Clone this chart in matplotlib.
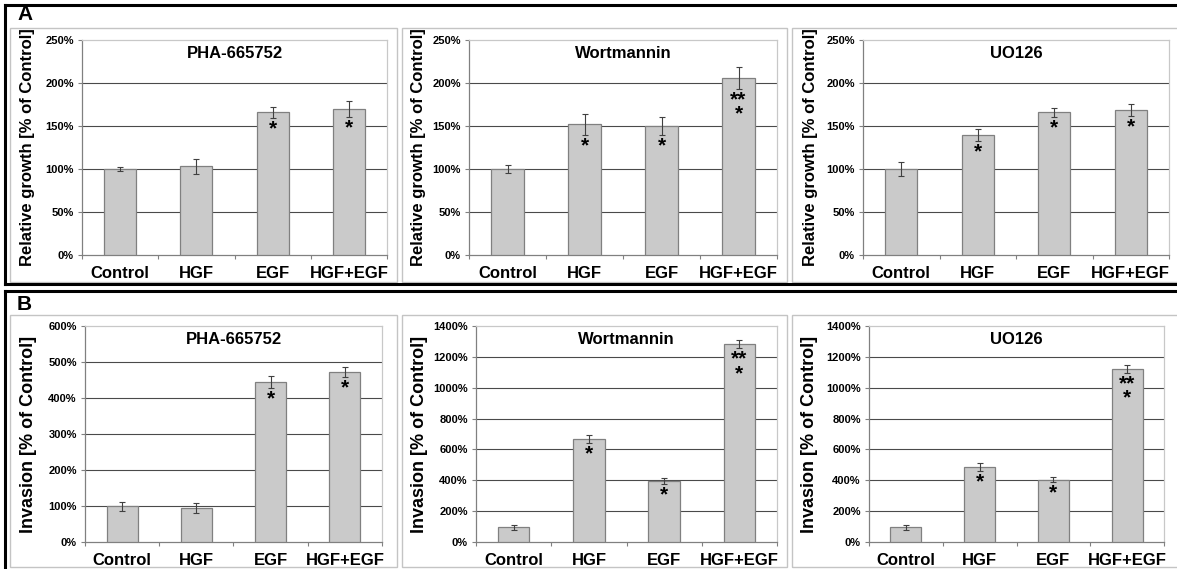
import matplotlib
matplotlib.use("Agg")
import matplotlib.pyplot as plt
from matplotlib.lines import Line2D
from matplotlib.patches import Rectangle
from matplotlib.ticker import FixedLocator, FuncFormatter

plt.rcParams['font.family'] = ['Liberation Sans', 'DejaVu Sans']

W, H = 1177, 569

categories = ["Control", "HGF", "EGF", "HGF+EGF"]

# Panel A: relative growth [% of Control]
growth_titles = ["PHA-665752", "Wortmannin", "UO126"]
growth_pha = [100, 103, 166, 170]
growth_pha_err = [2, 9, 6.5, 9.5]
growth_wort = [100, 152, 150, 206]
growth_wort_err = [4.5, 12, 10, 12.5]
growth_uo = [100, 140, 166, 169]
growth_uo_err = [8, 7, 5, 7]
growth_stars_pha = ["", "", "*", "*"]
growth_stars_wort = ["", "*", "*", "**\n*"]
growth_stars_uo = ["", "*", "*", "*"]

# Panel B: invasion [% of Control]
inv_pha = [99, 94, 445, 471]
inv_pha_err = [12, 14, 17, 14]
inv_wort = [95, 668, 396, 1285]
inv_wort_err = [15, 26, 19, 26]
inv_uo = [95, 484, 405, 1124]
inv_uo_err = [15, 26, 18, 26]
inv_stars_pha = ["", "", "*", "*"]
inv_stars_wort = ["", "*", "*", "**\n*"]
inv_stars_uo = ["", "*", "*", "**\n*"]

growth_ticks = [0, 50, 100, 150, 200, 250]
inv_ticks_pha = [0, 100, 200, 300, 400, 500, 600]
inv_ticks_big = [0, 200, 400, 600, 800, 1000, 1200, 1400]

fig = plt.figure(figsize=(W / 100, H / 100), dpi=100)


def rect(x0, y0, x1, y1):
    return [x0 / W, 1 - y1 / H, (x1 - x0) / W, (y1 - y0) / H]


def fline(xs, ys, **kw):
    fig.add_artist(Line2D([x / W for x in xs], [1 - y / H for y in ys],
                          transform=fig.transFigure, **kw))


def fbox(x0, y0, x1, y1, color="#c4c4c4", lw=1.0):
    fig.add_artist(Rectangle((x0 / W, 1 - y1 / H), (x1 - x0) / W, (y1 - y0) / H,
                             transform=fig.transFigure, fill=False,
                             edgecolor=color, linewidth=lw))


# Outer frames
fline([5, 5, 1177], [5, 5, 5], color="black", lw=2.2)
fline([5, 5], [5, 284], color="black", lw=2.2)
fline([5, 1177], [284, 284], color="black", lw=2.2)
fline([5, 1177], [291, 291], color="black", lw=2.2)
fline([5, 5], [291, 569], color="black", lw=2.2)
fig.text(17 / W, 1 - 15 / H, "A", fontsize=15, fontweight="bold", va="center", ha="left")
fig.text(17 / W, 1 - 304 / H, "B", fontsize=15, fontweight="bold", va="center", ha="left")

# Inner light boxes
for (x0, x1) in [(10, 397), (402, 787), (792, 1185)]:
    fbox(x0, 28, x1, 282)
for (x0, x1) in [(10, 397), (402, 787), (792, 1185)]:
    fbox(x0, 315, x1, 567)


def draw(axpx, values, errs, stars, ticks, title, ylabel, label_x, ylabel_size):
    x0, y0, x1, y1 = axpx
    ax = fig.add_axes(rect(x0, y0, x1, y1))
    pos = list(range(len(categories)))
    ax.bar(pos, values, width=0.42, color="#cacaca", edgecolor="#808080",
           linewidth=0.9, zorder=3)
    ax.errorbar(pos, values, yerr=errs, fmt="none", ecolor="#404040",
                elinewidth=0.8, capsize=2.5, capthick=0.8, zorder=4)
    ax.set_xlim(-0.5, len(categories) - 0.5)
    ax.set_ylim(ticks[0], ticks[-1])
    ax.yaxis.set_major_locator(FixedLocator(ticks))
    ax.yaxis.set_major_formatter(FuncFormatter(lambda v, p: f"{v:.0f}%"))
    for t in ticks[1:-1]:
        ax.axhline(t, color="#4a4a4a", linewidth=0.8, zorder=1)
    ax.set_xticks(pos)
    ax.set_xticklabels(categories, fontsize=12, fontweight="bold")
    ax.xaxis.set_minor_locator(FixedLocator([p + 0.5 for p in [-1] + pos]))
    ax.tick_params(axis="x", which="major", length=0, pad=8)
    ax.tick_params(axis="x", which="minor", length=3, color="#808080", width=0.8)
    ax.tick_params(axis="y", length=3, color="#808080", width=0.8, pad=3,
                   labelsize=8)
    for lab in ax.get_yticklabels():
        lab.set_fontweight("bold")
    for s in ["top", "right"]:
        ax.spines[s].set_color("#c8c8c8")
        ax.spines[s].set_linewidth(0.9)
    for s in ["left", "bottom"]:
        ax.spines[s].set_color("#808080")
        ax.spines[s].set_linewidth(0.9)
    ax.text(0.5, 1 - 13 / (y1 - y0), title, transform=ax.transAxes,
            ha="center", va="center", fontsize=12, fontweight="bold")
    ax.set_ylabel(ylabel, fontsize=ylabel_size, fontweight="bold", va="center")
    ax.yaxis.set_label_coords((label_x - x0) / (x1 - x0), 0.5)
    for p, v, e, s in zip(pos, values, errs, stars):
        if not s:
            continue
        ax.annotate(s, (p, v - e), xytext=(0, -1),
                    textcoords="offset points", ha="center", va="top",
                    multialignment="center", linespacing=0.72,
                    fontsize=15, fontweight="bold", zorder=5)
    return ax


gl = "Relative growth [% of Control]"
il = "Invasion [% of Control]"
draw((82, 40, 387, 255), growth_pha, growth_pha_err, growth_stars_pha,
     growth_ticks, growth_titles[0], gl, 27, 12)
draw((469, 40, 777, 255), growth_wort, growth_wort_err, growth_stars_wort,
     growth_ticks, growth_titles[1], gl, 418, 12)
draw((863, 40, 1169, 255), growth_uo, growth_uo_err, growth_stars_uo,
     growth_ticks, growth_titles[2], gl, 810, 12)
draw((85, 326, 382, 542), inv_pha, inv_pha_err, inv_stars_pha,
     inv_ticks_pha, growth_titles[0], il, 28, 13)
draw((476, 326, 777, 542), inv_wort, inv_wort_err, inv_stars_wort,
     inv_ticks_big, growth_titles[1], il, 419, 13)
draw((869, 326, 1164, 542), inv_uo, inv_uo_err, inv_stars_uo,
     inv_ticks_big, growth_titles[2], il, 810, 13)

fig.savefig("out.png", dpi=100)
